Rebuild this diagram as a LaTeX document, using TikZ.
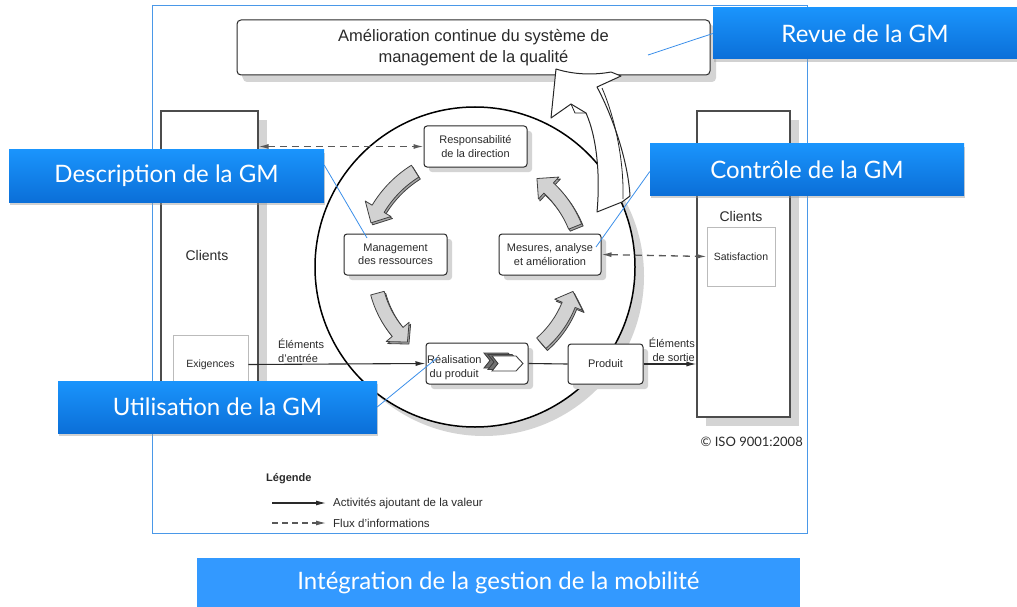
\documentclass[tikz,border=0pt]{standalone}
\usepackage{fontspec}
\setmainfont{Liberation Sans}
\newfontfamily\callfont{Lato}
\usetikzlibrary{arrows.meta,calc,shadows}
\definecolor{frameblue}{HTML}{4A98E8}
\definecolor{calltop}{HTML}{1A94FC}
\definecolor{callbot}{HTML}{0B6FD8}
\definecolor{bannerblue}{HTML}{3399FF}
\definecolor{ink}{HTML}{2A2A2A}
\definecolor{shade}{HTML}{D4D4D4}
\definecolor{arrowgray}{HTML}{D2D2D2}
\definecolor{arrowdark}{HTML}{A6A6A6}
\definecolor{linkblue}{HTML}{3B8FEA}
\definecolor{thingray}{HTML}{BBBBBB}
\tikzset{
  txt/.style={inner sep=0pt, text=ink, font=\fontsize{11}{13.5}\selectfont, align=center},
  pbox/.style={draw=ink, line width=1pt, rounded corners=3pt, fill=white, inner sep=0pt,
    text=ink, font=\fontsize{11}{13.5}\selectfont, align=center,
    drop shadow={shadow xshift=5pt, shadow yshift=-5pt, fill=shade, opacity=1}},
  colbox/.style={draw=black!70, line width=1.1pt, fill=white, inner sep=0pt,
    drop shadow={shadow xshift=9pt, shadow yshift=-9pt, fill=shade, opacity=1}},
  thinbox/.style={draw=thingray, line width=0.9pt, fill=white, inner sep=0pt,
    text=ink, font=\fontsize{10.5}{12}\selectfont},
  callout/.style={top color=calltop, bottom color=callbot, draw=none, inner sep=0pt,
    text=white, font=\callfont\fontsize{24}{28}\selectfont,
    drop shadow={shadow xshift=1pt, shadow yshift=-3pt, fill=black!40, opacity=0.45}},
  link/.style={draw=linkblue, line width=0.8pt},
  flow/.style={draw=ink, line width=1.1pt, -{Latex[length=10pt,width=5pt]}},
  plainline/.style={draw=ink, line width=1.1pt},
  info/.style={draw=black!65, line width=1.3pt, dash pattern=on 7pt off 5pt},
  cycarrow/.style={fill=arrowgray, draw=black!75, line width=0.8pt, line join=round},
  cycdark/.style={fill=arrowdark, draw=black!75, line width=0.8pt, line join=round},
  chevstyle/.style={fill=white, draw=black!75, line width=0.9pt, line join=miter},
  chevback/.style={fill=black!55, draw=black!75, line width=0.9pt, line join=miter},
}
\newcommand\cycarr[3]{%
  \pgfmathsetmacro\hb{#2+8}%
  \pgfmathsetmacro\ro{#3+7}\pgfmathsetmacro\ri{#3-7}%
  \pgfmathsetmacro\hro{#3+15}\pgfmathsetmacro\hri{#3-15}%
  \draw[cycdark, xshift=1.5pt, yshift=-2pt] (#1:\ro) arc[start angle=#1, end angle=\hb, radius=\ro] -- (\hb:\hro) -- (#2:#3) -- (\hb:\hri) -- (\hb:\ri) arc[start angle=\hb, end angle=#1, radius=\ri] -- cycle;
  \draw[cycarrow] (#1:\ro) arc[start angle=#1, end angle=\hb, radius=\ro] -- (\hb:\hro) -- (#2:#3) -- (\hb:\hri) -- (\hb:\ri) arc[start angle=\hb, end angle=#1, radius=\ri] -- cycle;
}
\newcommand\chev[3]{%
  \draw[#3] (#1,#2) -- ++(24,0) -- ++(7,7.5) -- ++(-7,7.5) -- ++(-24,0) -- ++(6,-7.5) -- cycle;
}
\begin{document}
\begin{tikzpicture}[x=1pt,y=-1pt]
\useasboundingbox (0,0) rectangle (1017,607);
\fill[white] (0,0) rectangle (1017,607);

% frame
\node[draw=frameblue, line width=0.9pt, minimum width=655pt, minimum height=528pt, inner sep=0pt] (frame) at (479.5,269) {};

% top box
\node[pbox, rounded corners=4pt, minimum width=473pt, minimum height=55pt,
  font=\fontsize{16.5}{21.5}\selectfont,
  drop shadow={shadow xshift=6pt, shadow yshift=-7pt, fill=shade, opacity=1}] (top) at (473.5,47.5)
  {Amélioration continue du système de\\management de la qualité};

% client columns
\node[colbox, minimum width=97pt, minimum height=307pt] (lcol) at (209.5,264.5) {};
\node[colbox, minimum width=93pt, minimum height=306pt] (rcol) at (743.5,264) {};
\node[txt, font=\fontsize{14}{16}\selectfont] (lclients) at (207,255) {Clients};
\node[txt, font=\fontsize{14}{16}\selectfont] (rclients) at (741,216) {Clients};
\node[thinbox, minimum width=75pt, minimum height=59pt] (exig) at (210.5,364.5) {Exigences};
\node[thinbox, minimum width=68pt, minimum height=59pt] (satis) at (741,256.5) {Satisfaction};

% circle
\node[circle, draw=black, line width=1.5pt, fill=white, minimum size=320pt, inner sep=0pt,
  drop shadow={shadow xshift=9pt, shadow yshift=-9pt, fill=shade, opacity=1}] (cyc) at (475,267) {};

% cycle arrows
\begin{scope}[shift={(cyc.center)}]
  \cycarr{-122}{-157}{113}
  \cycarr{-22}{-55}{108}
  \cycarr{165}{132}{101}
  \cycarr{49}{14}{101}
\end{scope}

% big improvement arrow
\draw[fill=white, draw=black!85, line width=1pt, line join=round]
  (556,69) .. controls (575,75) and (595,75) .. (611,72) -- (621,76) -- (597,87)
  .. controls (612,115) and (628,160) .. (630,196) -- (622,202) -- (597,212)
  .. controls (600,180) and (598,140) .. (586,113) -- (571,104) -- (551,118) -- cycle;
\draw[draw=black!85, line width=0.8pt] (602,88) .. controls (615,118) and (624,160) .. (623,199);
\draw[draw=black!85, line width=0.8pt] (571,104) -- (575,113) -- (586,113);

% process boxes
\node[pbox, minimum width=103pt, minimum height=41pt] (resp) at (475.5,146.5) {Responsabilité\\de la direction};
\node[pbox, minimum width=103pt, minimum height=41pt] (mgmt) at (395.5,254.5) {Management\\des ressources};
\node[pbox, minimum width=102pt, minimum height=41pt] (mesu) at (550,254.5) {Mesures, analyse\\et amélioration};
\node[pbox, minimum width=102pt, minimum height=41pt] (real) at (477,363.5) {};
\node[pbox, minimum width=75pt, minimum height=40pt] (prod) at (605.5,364) {Produit};
\chev{484}{353}{chevback}
\chev{488}{354.5}{chevback}
\chev{492}{356}{chevstyle}
\node[txt, anchor=west, align=left] (realtxt) at (427,367.5) {Réalisation\\\hspace*{2.5pt}du produit};

% flows
\draw[flow] (exig.east) -- (real.west);
\draw[plainline] (real.east) -- (prod.west);
\draw[flow] (prod.east) -- (rcol.west |- prod.east);
\node[txt, anchor=west, align=left] (inlab) at (278,351) {Éléments\\d'entrée};
\node[txt, anchor=east, align=right] (outlab) at (695,350) {Éléments\\de sortie};
\draw[info, {Latex[length=10pt,width=5pt]}-{Latex[length=10pt,width=5pt]}] (lcol.east |- resp.west) -- (resp.west);
\draw[info, {Latex[length=10pt,width=5pt]}-{Latex[length=10pt,width=5pt]}] (mesu.east) -- (satis.west);

% legend
\node[txt, anchor=west, font=\bfseries\fontsize{11}{13}\selectfont] (leg) at (266,479) {Légende};
\coordinate (l1a) at (272,503); \coordinate (l1b) at (326,503);
\coordinate (l2a) at (272,523); \coordinate (l2b) at (326,523);
\draw[flow] (l1a) -- (l1b);
\draw[info, line width=1.1pt, dash pattern=on 6pt off 4pt, -{Latex[length=10pt,width=5pt]}] (l2a) -- (l2b);
\node[txt, anchor=west, font=\fontsize{11.5}{13}\selectfont] (leg1) at (333,503) {Activités ajoutant de la valeur};
\node[txt, anchor=west, font=\fontsize{11.5}{13}\selectfont] (leg2) at (333,523) {Flux d'informations};

% copyright
\node[txt, anchor=east, font=\callfont\fontsize{13}{15}\selectfont] (copy) at (803,442) {© ISO 9001:2008};

% callouts
\node[callout, minimum width=304pt, minimum height=51pt] (revue) at (865,33.5) {Revue de la GM};
\node[callout, minimum width=315pt, minimum height=52pt] (desc) at (166.5,176) {Description de la GM};
\node[callout, minimum width=314pt, minimum height=51pt] (ctrl) at (807,169.5) {Contrôle de la GM};
\node[callout, minimum width=319pt, minimum height=52pt] (util) at (217.5,407) {Utilisation de la GM};
\coordinate (revueEnd) at (648,55);
\coordinate (descEnd) at (367,238);
\coordinate (ctrlEnd) at (596,247);
\coordinate (utilEnd) at (437,358);
\draw[link] (revue.west) -- (revueEnd);
\draw[link] ([yshift=11pt]desc.east) -- (descEnd);
\draw[link] ([yshift=-2pt]ctrl.west) -- (ctrlEnd);
\draw[link] (util.east) -- (utilEnd);

% banner
\node[fill=bannerblue, minimum width=603pt, minimum height=49pt, inner sep=0pt, text=white,
  font=\callfont\fontsize{24}{28}\selectfont] (banner) at (498.5,582.5) {Intégration de la gestion de la mobilité};
\end{tikzpicture}
\end{document}
